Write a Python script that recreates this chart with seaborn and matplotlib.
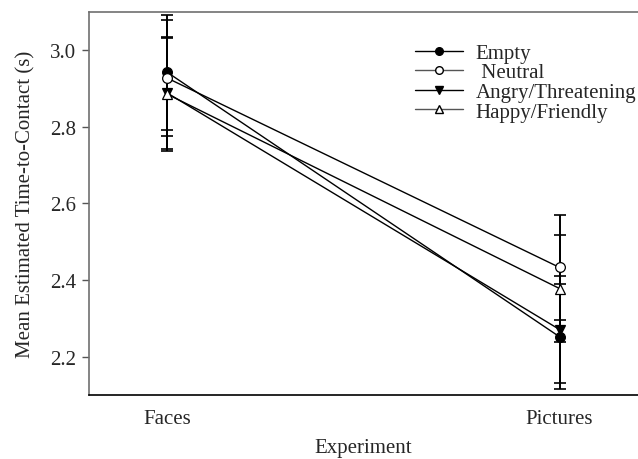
import numpy as np
import pandas as pd
import matplotlib
matplotlib.use("Agg")
import matplotlib.pyplot as plt
import seaborn as sns

# === DATA ===
experiments = ["Faces", "Pictures"]
conditions = ["Empty", "Neutral", "Angry/Threatening", "Happy/Friendly"]
empty_mean = [2.942, 2.252]
neutral_mean = [2.927, 2.433]
angry_mean = [2.888, 2.271]
happy_mean = [2.885, 2.378]
empty_err = [0.150, 0.137]
neutral_err = [0.151, 0.138]
angry_err = [0.147, 0.140]
happy_err = [0.147, 0.139]

means = [empty_mean, neutral_mean, angry_mean, happy_mean]
errs = [empty_err, neutral_err, angry_err, happy_err]

rows = []
for cond, m, e in zip(conditions, means, errs):
    for i, exp in enumerate(experiments):
        rows.append({"cond": cond, "x": i, "exp": exp, "mean": m[i], "err": e[i]})
df = pd.DataFrame(rows)

# === STYLE ===
sns.set_style("ticks")
plt.rcParams['font.family'] = ['Liberation Serif', 'DejaVu Serif']

markers = {"Empty": "o", "Neutral": "o", "Angry/Threatening": "v", "Happy/Friendly": "^"}
faces = {"Empty": "black", "Neutral": "white", "Angry/Threatening": "black", "Happy/Friendly": "white"}

fig = plt.figure(figsize=(6.38, 4.6), dpi=100)
ax = fig.add_axes([0.1395, 0.139, 0.8605, 0.833])

# error bars first so markers sit on top
for cond in conditions:
    d = df[df["cond"] == cond]
    ax.errorbar(d["x"], d["mean"], yerr=d["err"], fmt="none", ecolor="black",
                elinewidth=1.4, capsize=4, capthick=1.2, zorder=2)

sns.lineplot(data=df, x="x", y="mean", hue="cond", style="cond",
             palette=["black"] * 4, markers=markers, dashes=False,
             hue_order=conditions, style_order=conditions,
             linewidth=1.0, markersize=7, legend=False, ax=ax, zorder=3)

# fix marker faces per condition
for line, cond in zip(ax.get_lines()[-4:], conditions):
    line.set_markerfacecolor(faces[cond])
    line.set_markeredgecolor("black")
    line.set_markeredgewidth(0.9)

# legend
leg_colors = {"Empty": "black", "Neutral": "#555555", "Angry/Threatening": "black", "Happy/Friendly": "#555555"}
handles = [plt.Line2D([], [], color=leg_colors[c], marker=markers[c], markerfacecolor=faces[c],
                      markeredgecolor="black", markersize=5.5, linewidth=1.0) for c in conditions]
labels = ["Empty", " Neutral", "Angry/Threatening", "Happy/Friendly"]
ax.legend(handles, labels, loc="upper left", bbox_to_anchor=(0.594, 0.918), frameon=False,
          fontsize=15, handlelength=2.3, handletextpad=0.6, labelspacing=0.0,
          borderaxespad=0, borderpad=0)

ax.set_xlim(-0.2, 1.2)
ax.set_ylim(2.1, 3.1)
ax.set_xticks([0, 1])
ax.set_xticklabels(experiments)
ax.set_yticks([2.2, 2.4, 2.6, 2.8, 3.0])
ax.set_yticklabels(["2.2", "2.4", "2.6", "2.8", "3.0"])
ax.tick_params(axis="x", length=0, pad=10, labelsize=15)
ax.tick_params(axis="y", length=5, width=1, pad=4, labelsize=15, color="#555555")

ax.set_xlabel("Experiment", fontsize=15, labelpad=7)
ax.set_ylabel("Mean Estimated Time-to-Contact (s)", fontsize=15, labelpad=11)

ax.spines["right"].set_visible(False)
ax.spines["top"].set_color("#707070")
ax.spines["left"].set_color("#707070")
ax.spines["bottom"].set_color("black")
for s in ["top", "left", "bottom"]:
    ax.spines[s].set_linewidth(1.2)

fig.savefig("out.png", dpi=100)
